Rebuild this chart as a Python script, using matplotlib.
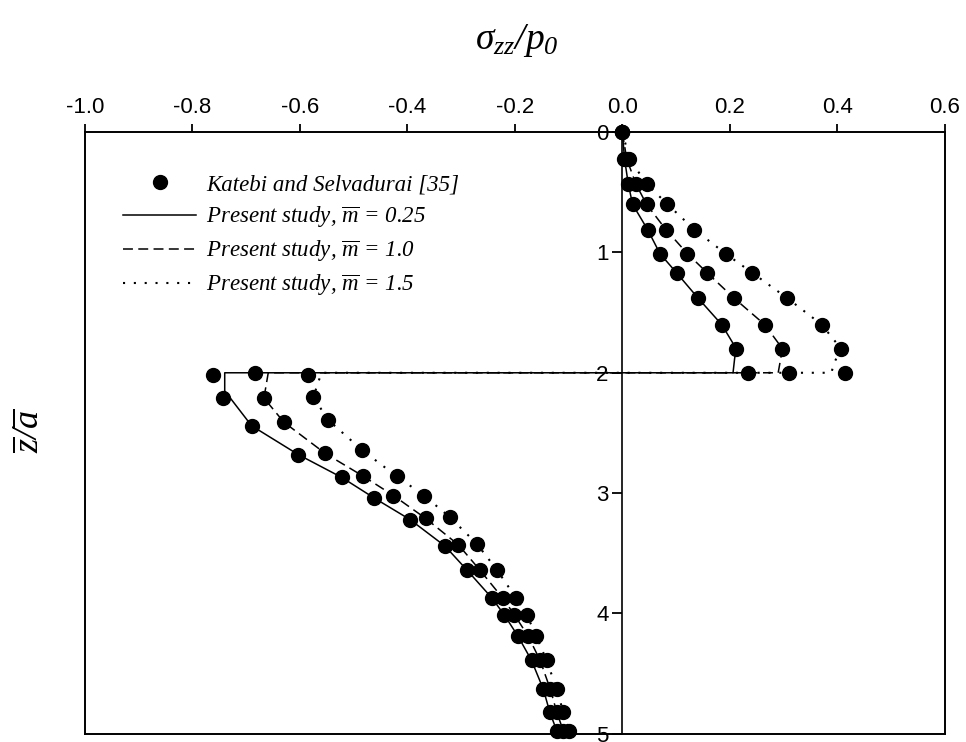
import matplotlib
matplotlib.use("Agg")
import matplotlib.pyplot as plt
from matplotlib.lines import Line2D

plt.rcParams['font.family'] = ['Liberation Sans', 'DejaVu Sans']
plt.rcParams['axes.unicode_minus'] = False
plt.rcParams['mathtext.fontset'] = 'custom'
plt.rcParams['mathtext.it'] = 'Liberation Serif:italic'
plt.rcParams['mathtext.rm'] = 'Liberation Serif:italic'

# Katebi and Selvadurai [35] - upper layer (0 <= z/a <= 2)
y_up = [0.0, 0.22, 0.43, 0.60, 0.81, 1.01, 1.17, 1.38, 1.60, 1.80, 2.0]
ks_up_025 = [0.0, 0.004, 0.011, 0.019, 0.047, 0.070, 0.101, 0.141, 0.185, 0.212, 0.233]
ks_up_10 = [0.0, 0.008, 0.025, 0.045, 0.081, 0.121, 0.158, 0.208, 0.265, 0.298, 0.310]
ks_up_15 = [0.0, 0.013, 0.045, 0.084, 0.134, 0.192, 0.242, 0.307, 0.371, 0.407, 0.414]

# Katebi and Selvadurai [35] - lower layer (2 <= z/a <= 5)
y_lo_025 = [2.02, 2.21, 2.44, 2.68, 2.87, 3.04, 3.22, 3.44, 3.64, 3.87, 4.01, 4.19, 4.39, 4.63, 4.82, 4.98]
ks_lo_025 = [-0.761, -0.743, -0.690, -0.603, -0.522, -0.462, -0.395, -0.330, -0.289, -0.243,
             -0.220, -0.194, -0.169, -0.147, -0.135, -0.122]
y_lo_10 = [2.00, 2.21, 2.41, 2.67, 2.86, 3.02, 3.21, 3.43, 3.64, 3.87, 4.01, 4.19, 4.39, 4.63, 4.82, 4.98]
ks_lo_10 = [-0.684, -0.667, -0.630, -0.553, -0.482, -0.426, -0.366, -0.305, -0.265, -0.223,
            -0.201, -0.175, -0.153, -0.134, -0.122, -0.110]
y_lo_15 = [2.02, 2.20, 2.39, 2.64, 2.86, 3.02, 3.20, 3.42, 3.64, 3.87, 4.01, 4.19, 4.39, 4.63, 4.82, 4.98]
ks_lo_15 = [-0.585, -0.575, -0.548, -0.485, -0.420, -0.369, -0.321, -0.271, -0.233, -0.198,
            -0.178, -0.160, -0.141, -0.122, -0.110, -0.099]

# Present study curves
ps_y_025 = [0.0, 0.22, 0.43, 0.60, 0.81, 1.01, 1.17, 1.38, 1.60, 1.80, 1.88, 2.0, 2.0, 2.15,
            2.44, 2.68, 2.87, 3.04, 3.22, 3.44, 3.64, 3.87, 4.01, 4.19, 4.39, 4.63, 4.82, 5.0]
ps_x_025 = [0.0, 0.004, 0.011, 0.019, 0.047, 0.070, 0.101, 0.141, 0.185, 0.212, 0.209, 0.206, -0.740, -0.740,
            -0.690, -0.603, -0.522, -0.462, -0.395, -0.330, -0.289, -0.243, -0.220, -0.194, -0.169, -0.147, -0.135, -0.120]
ps_y_10 = [0.0, 0.22, 0.43, 0.60, 0.81, 1.01, 1.17, 1.38, 1.60, 1.80, 1.95, 2.0, 2.0, 2.21,
           2.41, 2.67, 2.86, 3.02, 3.21, 3.43, 3.64, 3.87, 4.01, 4.19, 4.39, 4.63, 4.82, 5.0]
ps_x_10 = [0.0, 0.008, 0.025, 0.045, 0.081, 0.121, 0.158, 0.208, 0.265, 0.298, 0.292, 0.290, -0.659, -0.667,
           -0.630, -0.553, -0.482, -0.426, -0.366, -0.305, -0.265, -0.223, -0.201, -0.175, -0.153, -0.134, -0.122, -0.108]
ps_y_15 = [0.0, 0.22, 0.43, 0.60, 0.81, 1.01, 1.17, 1.38, 1.60, 1.80, 1.92, 2.0, 2.0, 2.20,
           2.39, 2.64, 2.86, 3.02, 3.20, 3.42, 3.64, 3.87, 4.01, 4.19, 4.39, 4.63, 4.82, 5.0]
ps_x_15 = [0.0, 0.013, 0.045, 0.084, 0.134, 0.192, 0.242, 0.307, 0.371, 0.407, 0.394, 0.389, -0.560, -0.575,
           -0.548, -0.485, -0.420, -0.369, -0.321, -0.271, -0.233, -0.198, -0.178, -0.160, -0.141, -0.122, -0.110, -0.097]

x_ticks = [-1.0, -0.8, -0.6, -0.4, -0.2, 0.0, 0.2, 0.4, 0.6]
y_ticks = [0, 1, 2, 3, 4, 5]

fig = plt.figure(figsize=(9.66, 7.42), dpi=100)
ax = fig.add_axes([0.088, 0.011, 0.890, 0.811])

lw = 1.1
dash = (0, (6.5, 3.5))
dot = (0, (1, 4.2))
ax.plot(ps_x_025, ps_y_025, color='k', lw=lw, ls='-')
ax.plot(ps_x_10, ps_y_10, color='k', lw=lw, ls=dash)
ax.plot(ps_x_15, ps_y_15, color='k', lw=1.5, ls=dot)

ms = 10
for xs, ys in [(ks_up_025, y_up), (ks_up_10, y_up), (ks_up_15, y_up),
               (ks_lo_025, y_lo_025), (ks_lo_10, y_lo_10), (ks_lo_15, y_lo_15)]:
    ax.plot(xs, ys, 'o', color='k', ms=ms, zorder=3, clip_on=False)

ax.set_xlim(-1.0, 0.6)
ax.set_ylim(5, 0)

ax.xaxis.tick_top()
ax.set_xticks(x_ticks)
ax.set_xticklabels(['%.1f' % v for v in x_ticks])
ax.set_yticks(y_ticks)
ax.set_yticklabels([str(v) for v in y_ticks])
ax.tick_params(axis='x', direction='out', length=6, width=1.3, pad=4, labelsize=16)
ax.tick_params(axis='y', direction='out', length=7, width=1.3, pad=3, labelsize=16)

for s in ax.spines.values():
    s.set_linewidth(1.4)
ax.spines['left'].set_position(('data', 0))
ax.spines['left'].set_linewidth(1.2)
ax.plot([0, 0], [0, 1], transform=ax.transAxes, color='k', lw=1.4, clip_on=False)

handles = [
    Line2D([], [], ls='none', marker='o', color='k', ms=ms),
    Line2D([], [], color='k', lw=lw, ls='-'),
    Line2D([], [], color='k', lw=lw, ls=dash),
    Line2D([], [], color='k', lw=1.5, ls=dot),
]
labels = [
    'Katebi and Selvadurai [35]',
    r'Present study, $\overline{m}$ = 0.25',
    r'Present study, $\overline{m}$ = 1.0',
    r'Present study, $\overline{m}$ = 1.5',
]
leg = ax.legend(handles, labels, loc='upper left', bbox_to_anchor=(0.044, 0.93),
                frameon=False, borderpad=0, borderaxespad=0, handlelength=3.2,
                handletextpad=0.45, labelspacing=0.38,
                prop={'family': 'Liberation Serif', 'style': 'italic', 'size': 16.5})

fig.text(0.535, 0.945, r'$\sigma_{zz}/p_0$', fontsize=27, ha='center', va='center')
fig.text(0.03, 0.42, r'$\overline{z}/\overline{a}$', fontsize=26, ha='center', va='center', rotation=90)

fig.savefig('out.png', dpi=100)
